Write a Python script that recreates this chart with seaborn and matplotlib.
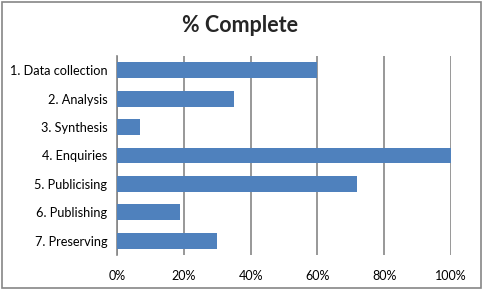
import matplotlib
matplotlib.use("Agg")
import matplotlib.pyplot as plt
import seaborn as sns
import pandas as pd
from matplotlib.ticker import PercentFormatter
from matplotlib.patches import Rectangle

categories = ["1. Data collection", "2. Analysis", "3. Synthesis", "4. Enquiries",
              "5. Publicising", "6. Publishing", "7. Preserving"]
values = [0.60, 0.35, 0.07, 1.00, 0.72, 0.19, 0.30]
xticks = [0, 0.2, 0.4, 0.6, 0.8, 1.0]

df = pd.DataFrame({"task": categories, "pct": values})

sns.set_style("white")
plt.rcParams['font.family'] = ['Lato', 'DejaVu Sans']

fig = plt.figure(figsize=(4.83, 2.91), dpi=100)
ax = fig.add_axes([117/483, 1-255/291, (451-117)/483, (255-56)/291])

sns.barplot(data=df, x="pct", y="task", orient="h", color="#4F81BD",
            width=0.56, saturation=1, linewidth=0, edgecolor="none", ax=ax, zorder=3)

ax.set_xlim(0, 1)
ax.set_xticks(xticks)
ax.xaxis.set_major_formatter(PercentFormatter(1.0, decimals=0))
ax.grid(axis="x", color="#868686", linewidth=1.2, zorder=0)
ax.set_axisbelow(True)
for s in ["top", "right", "bottom"]:
    ax.spines[s].set_visible(False)
ax.spines["left"].set_color("#868686")
ax.spines["left"].set_linewidth(1.2)
ax.set_xlabel("")
ax.set_ylabel("")
ax.tick_params(axis="x", length=3, width=1.2, color="#868686", pad=8, labelsize=9, labelcolor="black")
ax.tick_params(axis="y", length=0, pad=7, labelsize=9.2, labelcolor="black")

fig.text(240/483, 1-26/291, "% Complete", ha="center", va="center",
         fontsize=15.5, fontweight="bold")

fig.patches.append(Rectangle((2/483, 3/291), 479/483, 286/291, transform=fig.transFigure,
                             fill=False, edgecolor="#868686", linewidth=1.2))

fig.savefig("out.png", dpi=100)
